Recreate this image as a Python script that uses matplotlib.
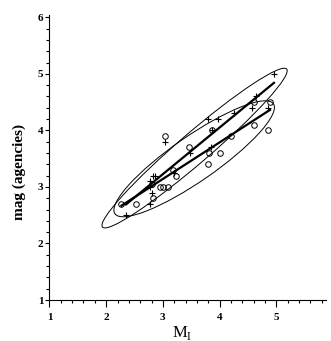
import numpy as np
import matplotlib
matplotlib.use("Agg")
import matplotlib.pyplot as plt
from matplotlib.patches import Ellipse
from matplotlib.ticker import MultipleLocator

plt.rcParams['font.family'] = ['Liberation Serif', 'DejaVu Serif']

# agency "+" magnitudes vs M_I
plus_x = [2.35, 2.77, 2.80, 2.78, 2.77, 2.82, 2.86, 3.04, 3.19, 3.48,
          3.79, 3.97, 3.87, 3.85, 4.26, 4.58, 4.65, 4.85, 4.96]
plus_y = [2.50, 2.70, 2.90, 3.00, 3.10, 3.20, 3.20, 3.80, 3.25, 3.60,
          4.20, 4.20, 4.00, 3.70, 4.30, 4.40, 4.60, 4.40, 5.00]

# agency "o" magnitudes vs M_I
circ_x = [2.27, 2.53, 2.82, 2.80, 2.95, 3.01, 3.09, 3.04, 3.18, 3.24,
          3.47, 3.79, 3.82, 4.01, 3.87, 4.21, 4.60, 4.60, 4.86, 4.89]
circ_y = [2.70, 2.70, 2.80, 3.05, 3.00, 3.00, 3.00, 3.90, 3.30, 3.20,
          3.70, 3.40, 3.60, 3.60, 4.00, 3.90, 4.10, 4.50, 4.00, 4.50]


def conf_ellipse(x, y, n_major, n_minor, **kw):
    cov = np.cov(x, y)
    vals, vecs = np.linalg.eigh(cov)
    order = vals.argsort()[::-1]
    vals, vecs = vals[order], vecs[:, order]
    angle = np.degrees(np.arctan2(vecs[1, 0], vecs[0, 0]))
    w = 2 * n_major * np.sqrt(vals[0])
    h = 2 * n_minor * np.sqrt(vals[1])
    return Ellipse((np.mean(x), np.mean(y)), w, h, angle=angle,
                   fill=False, **kw)


def fit_line(ax, x, y):
    k, b = np.polyfit(x, y, 1)
    xs = np.array([min(x), max(x)])
    ax.plot(xs, k * xs + b, color="black", lw=1.6)


fig = plt.figure(figsize=(3.31, 3.41), dpi=100)
ax = fig.add_axes([0.1495, 0.1202, 0.834, 0.8358])

ax.plot(plus_x, plus_y, "+", color="black", ms=5, mew=0.8)
ax.plot(circ_x, circ_y, "o", mfc="none", mec="black", ms=4, mew=0.7)

fit_line(ax, plus_x, plus_y)
fit_line(ax, circ_x, circ_y)

ax.add_patch(conf_ellipse(plus_x, plus_y, 2.0, 1.6, color="black", lw=0.7))
ax.add_patch(conf_ellipse(circ_x, circ_y, 1.8, 1.9, color="black", lw=0.7))

ax.set_xlim(1, 5.87)
ax.set_ylim(1, 6.04)
ax.spines["top"].set_visible(False)
ax.spines["right"].set_visible(False)
ax.xaxis.set_major_locator(MultipleLocator(1))
ax.xaxis.set_minor_locator(MultipleLocator(0.2))
ax.yaxis.set_major_locator(MultipleLocator(1))
ax.yaxis.set_minor_locator(MultipleLocator(0.2))
ax.tick_params(which="major", direction="out", width=0.8, labelsize=8)
ax.tick_params(axis="x", which="major", length=5, pad=4)
ax.tick_params(axis="y", which="major", length=3, pad=1.5)
ax.tick_params(which="minor", direction="out", length=2.5, width=0.8)
for lab in ax.get_xticklabels() + ax.get_yticklabels():
    lab.set_fontweight("bold")

ax.set_xlabel(r"M$_\mathregular{I}$", fontsize=12)
ax.set_ylabel("mag (agencies)", fontsize=11, fontweight="bold")
ax.xaxis.set_label_coords(0.48, -0.085)
ax.yaxis.set_label_coords(-0.085, 0.45)

fig.savefig("out.png", dpi=100)
